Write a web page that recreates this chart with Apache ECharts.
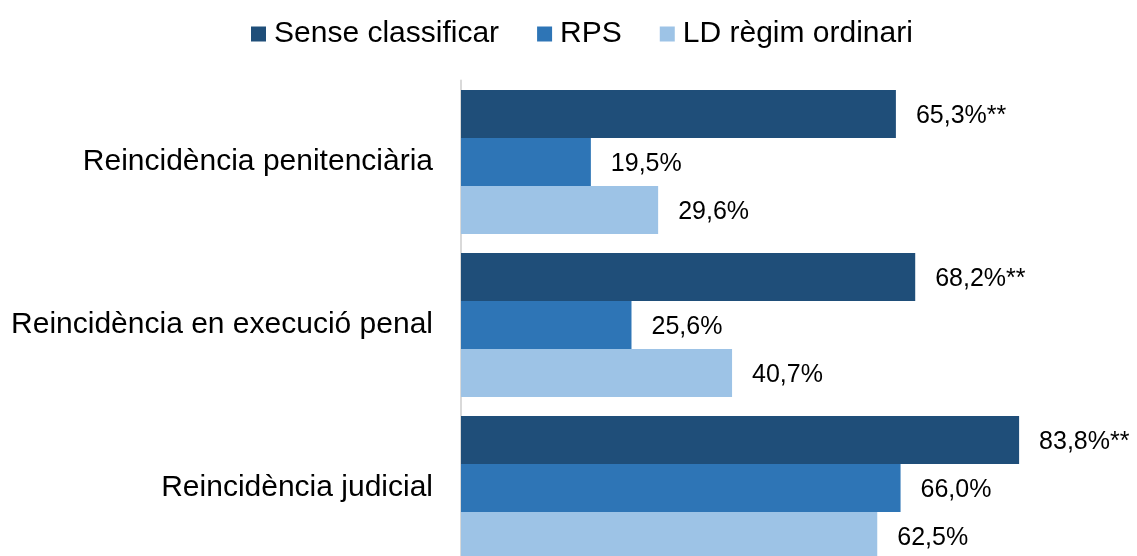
<!DOCTYPE html>
<html><head><meta charset="utf-8">
<script src="https://cdn.jsdelivr.net/npm/echarts@6/dist/echarts.min.js"></script>
<style>html,body{margin:0;padding:0;background:#fff}#c{width:1137px;height:556px}</style>
</head><body><div id="c"></div>
<script>
const categories = ["Reincidència penitenciària", "Reincidència en execució penal", "Reincidència judicial"];
const seriesNames = ["Sense classificar", "RPS", "LD règim ordinari"];
const senseClassificar = [65.3, 68.2, 83.8];
const rps = [19.5, 25.6, 66.0];
const ldRegimOrdinari = [29.6, 40.7, 62.5];
const labelSuffix = ["%**", "%", "%"];
const colors = ["#1F4E79", "#2E75B6", "#9DC3E6"];
const values = [senseClassificar, rps, ldRegimOrdinari];

const font = "Liberation Sans, Arial, sans-serif";
const chart = echarts.init(document.getElementById('c'), null, {renderer: 'canvas'});
chart.setOption({
  animation: false,
  legend: {
    top: 14, left: 246,
    itemWidth: 15, itemHeight: 15, itemGap: 38,
    icon: 'rect',
    textStyle: {fontFamily: font, fontSize: 30, color: '#000', padding: [0, 0, 0, 3]},
    data: seriesNames
  },
  grid: {left: 461, right: 10, top: 80.5, height: 489, containLabel: false, outerBoundsMode: 'none'},
  xAxis: {type: 'value', min: 0, max: 100, show: false},
  yAxis: {
    type: 'category', data: categories, inverse: true,
    axisLine: {show: true, lineStyle: {color: '#d9d9d9', width: 2}},
    axisTick: {show: false},
    axisLabel: {fontFamily: font, fontSize: 30, color: '#000', margin: 28, padding: [6, 0, 0, 0]}
  },
  series: seriesNames.map((n, i) => ({
    name: n, type: 'bar', data: values[i],
    barGap: '0%', barCategoryGap: '11.7%',
    itemStyle: {color: colors[i]},
    label: {
      show: true, position: 'right', distance: 20, offset: [0, 2],
      fontFamily: font, fontSize: 25, color: '#000',
      formatter: p => p.value.toFixed(1).replace('.', ',') + labelSuffix[i]
    }
  }))
});
</script></body></html>
